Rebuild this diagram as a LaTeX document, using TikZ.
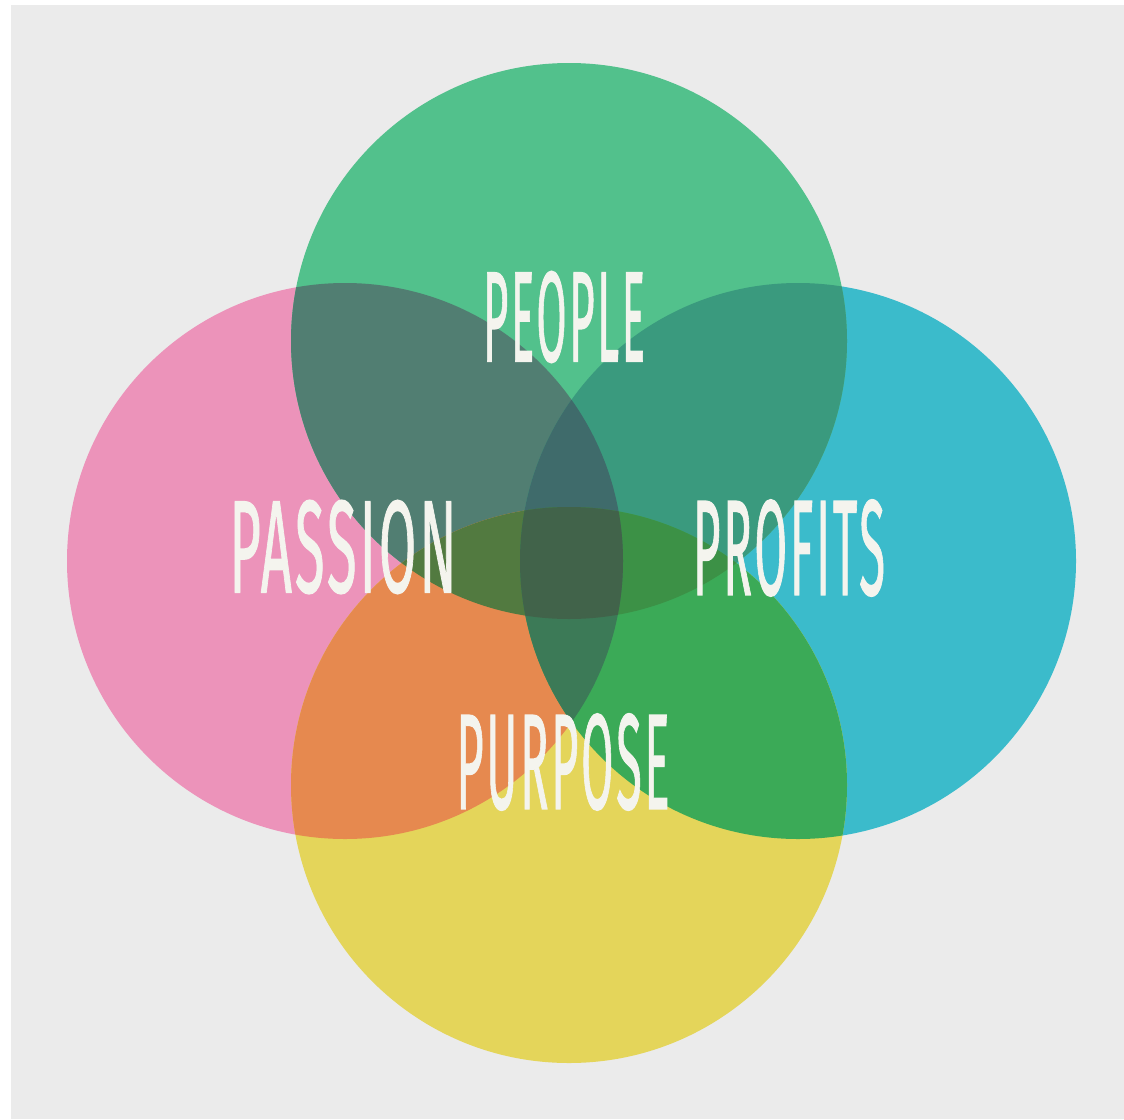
\documentclass[tikz,border=0pt]{standalone}
\usepackage{fontspec}
\usepackage{graphicx}
\newfontfamily\lab{Fira Sans}[LetterSpace=6, FakeBold=1.2]
\definecolor{bgc}{HTML}{EBEBEB}
\definecolor{cg}{HTML}{52C18C}
\definecolor{cp}{HTML}{EC93BA}
\definecolor{cc}{HTML}{3BBBCB}
\definecolor{cy}{HTML}{E4D55A}
\definecolor{cgp}{HTML}{517E72}
\definecolor{cgc}{HTML}{3A9A7E}
\definecolor{cpy}{HTML}{E6894F}
\definecolor{ccy}{HTML}{3BAA57}
\definecolor{cgpc}{HTML}{3F6B6B}
\definecolor{cgpy}{HTML}{527A40}
\definecolor{cgcy}{HTML}{3C9146}
\definecolor{cpcy}{HTML}{3C7A57}
\definecolor{call}{HTML}{41634A}
\definecolor{txt}{HTML}{F4F4EE}
\begin{document}
\begin{tikzpicture}[x=1pt,y=-1pt,
  lbl/.style={text=txt, inner sep=0pt, font=\lab}]
\useasboundingbox (0,0) rectangle (1124,1119);
\fill[white] (0,0) rectangle (1124,1119);
\fill[bgc] (11,5) rectangle (1124,1119);
\def\R{278}
\coordinate (G) at (569,341);
\coordinate (P) at (345,561);
\coordinate (C) at (798,561);
\coordinate (Y) at (569,785);
% single circles
\fill[cp] (P) circle[radius=\R];
\fill[cc] (C) circle[radius=\R];
\fill[cg] (G) circle[radius=\R];
\fill[cy] (Y) circle[radius=\R];
% pairs
\begin{scope}\clip (G) circle[radius=\R]; \fill[cgp] (P) circle[radius=\R]; \end{scope}
\begin{scope}\clip (G) circle[radius=\R]; \fill[cgc] (C) circle[radius=\R]; \end{scope}
\begin{scope}\clip (Y) circle[radius=\R]; \fill[cpy] (P) circle[radius=\R]; \end{scope}
\begin{scope}\clip (Y) circle[radius=\R]; \fill[ccy] (C) circle[radius=\R]; \end{scope}
% triples
\begin{scope}\clip (G) circle[radius=\R]; \clip (P) circle[radius=\R]; \fill[cgpc] (C) circle[radius=\R]; \end{scope}
\begin{scope}\clip (G) circle[radius=\R]; \clip (P) circle[radius=\R]; \fill[cgpy] (Y) circle[radius=\R]; \end{scope}
\begin{scope}\clip (G) circle[radius=\R]; \clip (C) circle[radius=\R]; \fill[cgcy] (Y) circle[radius=\R]; \end{scope}
\begin{scope}\clip (P) circle[radius=\R]; \clip (C) circle[radius=\R]; \fill[cpcy] (Y) circle[radius=\R]; \end{scope}
% all four
\begin{scope}\clip (G) circle[radius=\R]; \clip (P) circle[radius=\R]; \clip (C) circle[radius=\R]; \fill[call] (Y) circle[radius=\R]; \end{scope}
% labels
\node[lbl] (people) at (564,317) {\resizebox{162pt}{90pt}{PEOPLE}};
\node[lbl] (passion) at (343,547) {\resizebox{227pt}{92pt}{PASSION}};
\node[lbl] (profits) at (789,548) {\resizebox{192pt}{95pt}{PROFITS}};
\node[lbl] (purpose) at (563,762) {\resizebox{213pt}{95pt}{PURPOSE}};
\end{tikzpicture}
\end{document}
